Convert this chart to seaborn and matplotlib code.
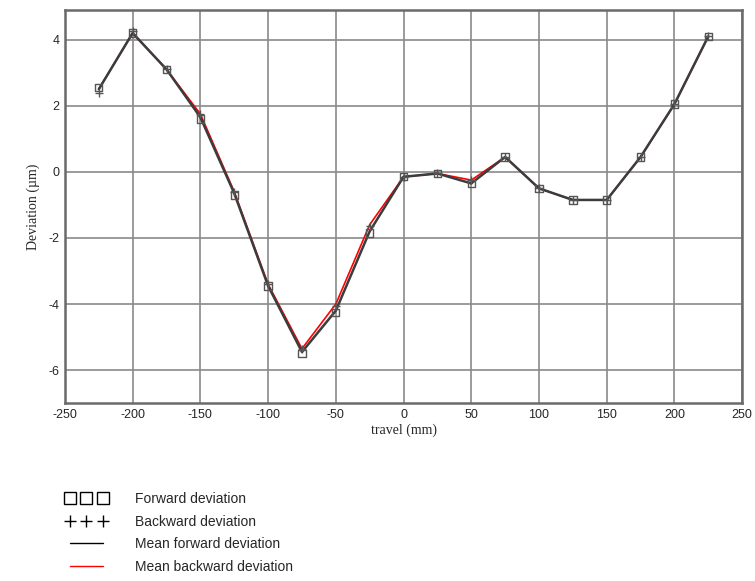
import seaborn as sns
import pandas as pd
import matplotlib.pyplot as plt
from matplotlib.lines import Line2D

travel = [-225, -200, -175, -150, -125, -100, -75, -50, -25, 0, 25, 50, 75, 100, 125, 150, 175, 200, 225]
forward = [2.55, 4.2, 3.1, 1.6, -0.7, -3.45, -5.5, -4.25, -1.85, -0.15, -0.05, -0.35, 0.45, -0.5, -0.85, -0.85, 0.45, 2.05, 4.1]
backward = [2.4, 4.25, 3.1, 1.75, -0.6, -3.4, -5.35, -4.05, -1.65, -0.15, -0.05, -0.25, 0.45, -0.5, -0.85, -0.85, 0.45, 2.05, 4.1]
mean_forward = [2.5, 4.2, 3.1, 1.65, -0.65, -3.45, -5.45, -4.2, -1.8, -0.15, -0.05, -0.35, 0.45, -0.5, -0.85, -0.85, 0.45, 2.05, 4.1]
mean_backward = [2.5, 4.2, 3.1, 1.75, -0.6, -3.4, -5.35, -4.0, -1.6, -0.15, -0.05, -0.25, 0.45, -0.5, -0.85, -0.85, 0.45, 2.05, 4.1]

df = pd.DataFrame({"travel": travel, "forward": forward, "backward": backward,
                   "mean_forward": mean_forward, "mean_backward": mean_backward})

sns.set_style("white")
plt.rcParams['font.family'] = ['Liberation Sans', 'DejaVu Sans']
plt.rcParams['axes.unicode_minus'] = False

fig = plt.figure(figsize=(7.55, 5.81), dpi=100)
ax = fig.add_axes([0.086, 0.306, 0.897, 0.677])

sns.lineplot(data=df, x="travel", y="mean_backward", color="red", lw=1.2, ax=ax, zorder=3)
sns.lineplot(data=df, x="travel", y="mean_forward", color="#3c3c3c", lw=1.8, ax=ax, zorder=4)
ax.scatter(df["travel"], df["forward"], marker="s", s=28, facecolors="none",
           edgecolors="#555555", linewidths=1.0, zorder=5)
ax.scatter(df["travel"], df["backward"], marker="+", s=30, color="#555555",
           linewidths=1.0, zorder=5)

ax.set_xlim(-250, 250)
ax.set_ylim(-7, 4.9)
ax.set_xticks(range(-250, 251, 50))
ax.set_yticks([-6, -4, -2, 0, 2, 4])
ax.grid(True, color="#8a8a8a", lw=1.2)
ax.set_axisbelow(True)
for s in ax.spines.values():
    s.set_color("#6a6a6a")
    s.set_linewidth(1.8)
ax.tick_params(axis="both", length=0, labelsize=9, pad=4)
ax.set_xlabel("travel (mm)", family="Liberation Serif", fontsize=10, labelpad=2)
ax.set_ylabel("Deviation (\u00b5m)", family="Liberation Serif", fontsize=10, labelpad=6)

handles = [
    Line2D([], [], marker="s", linestyle="none", markerfacecolor="none",
           markeredgecolor="black", markersize=9, markeredgewidth=1.0),
    Line2D([], [], marker="+", linestyle="none", color="black",
           markersize=8, markeredgewidth=1.0),
    Line2D([], [], color="black", lw=1.0),
    Line2D([], [], color="red", lw=1.0),
]
labels = ["Forward deviation", "Backward deviation", "Mean forward deviation", "Mean backward deviation"]
fig.legend(handles, labels, loc="lower left", bbox_to_anchor=(0.07, -0.009), frameon=False,
           numpoints=3, fontsize=10, handlelength=3.0, handletextpad=2.0, labelspacing=0.62)

plt.savefig("out.png", dpi=100)
